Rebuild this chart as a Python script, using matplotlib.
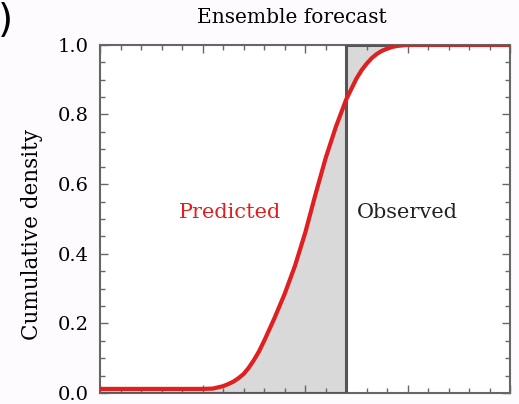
import matplotlib
matplotlib.use("Agg")
import matplotlib.pyplot as plt
import numpy as np
from matplotlib.ticker import MultipleLocator

# values
obs_x = 2.4
pred_x = [0.0, 0.5, 1.0, 1.1, 1.2, 1.25, 1.3, 1.35, 1.4, 1.45, 1.5, 1.55, 1.6, 1.7, 1.8, 1.9, 2.0,
          2.1, 2.2, 2.3, 2.4, 2.5, 2.55, 2.6, 2.65, 2.7, 2.75, 2.8, 2.85, 2.9, 3.0, 4.0]
pred_y = [0.012, 0.012, 0.012, 0.013, 0.02, 0.026, 0.033, 0.043, 0.055, 0.073, 0.095, 0.12,
          0.15, 0.215, 0.285, 0.365, 0.46, 0.57, 0.675, 0.765, 0.843, 0.903, 0.927, 0.946,
          0.962, 0.974, 0.983, 0.989, 0.994, 0.997, 1.0, 1.0]
yticks = [0.0, 0.2, 0.4, 0.6, 0.8, 1.0]

plt.rcParams['font.family'] = ['DejaVu Serif']

fig = plt.figure(figsize=(5.19, 4.04), dpi=100, facecolor='#fdfbfd')
ax = fig.add_axes([0.193, 0.027, 0.79, 0.862])
ax.set_facecolor('white')

px = np.array(pred_x)
py = np.array(pred_y)

# area between forecast cdf and observed step
ax.fill_between(px, py, 0, where=px <= obs_x, color='#d9d9d9', lw=0)
ax.fill_between(px, py, 1, where=px >= obs_x, color='#d9d9d9', lw=0)

# observed step
ax.plot([0, obs_x, obs_x, 4], [0, 0, 1, 1], color='#555555', lw=2.2, zorder=3)
ax.plot(px, py, color='#e02020', lw=3, zorder=4, solid_joinstyle='round')

ax.text(1.27, 0.52, "Predicted", color='#e02020', fontsize=15, ha='center', va='center')
ax.text(3.0, 0.52, "Observed", color='#222222', fontsize=15, ha='center', va='center')

ax.set_xlim(0, 4)
ax.set_ylim(0, 1)
ax.set_yticks(yticks)
ax.set_yticklabels(["%.1f" % v for v in yticks])
ax.xaxis.set_major_locator(MultipleLocator(1))
ax.xaxis.set_minor_locator(MultipleLocator(0.2))
ax.yaxis.set_minor_locator(MultipleLocator(0.05))
ax.tick_params(axis='both', which='both', direction='in', top=True, right=True, color='#666666')
ax.tick_params(axis='both', which='major', length=6, width=1, labelsize=14, pad=8)
ax.tick_params(axis='both', which='minor', length=3.5, width=1)
ax.tick_params(axis='x', which='both', labelbottom=False)
for s in ax.spines.values():
    s.set_color('#666666')
    s.set_linewidth(1.5)

ax.set_ylabel("Cumulative density", fontsize=15.5)
ax.yaxis.set_label_coords(-0.14, 0.455)
ax.text(0.468, 1.078, "Ensemble forecast", fontsize=14.5, ha='center', va='center',
        transform=ax.transAxes)

fig.text(-0.004, 0.995, ")", fontsize=28, family='DejaVu Sans', ha='left', va='top')

fig.savefig("out.png", dpi=100, facecolor=fig.get_facecolor())
